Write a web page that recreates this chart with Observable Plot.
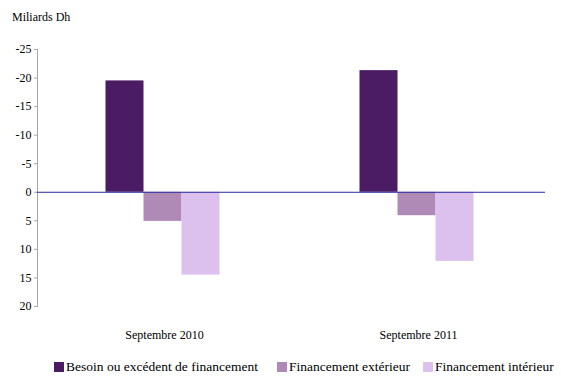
<!DOCTYPE html>
<html>
<head>
<meta charset="utf-8">
<script src="https://cdn.jsdelivr.net/npm/d3@7"></script>
<script src="https://cdn.jsdelivr.net/npm/@observablehq/plot@0.6"></script>
<style>
  html, body { margin: 0; padding: 0; background: #fff; }
  #wrap { position: relative; width: 561px; height: 380px; font-family: 'Liberation Serif', 'DejaVu Serif', serif; color: #000; }
  #unit { position: absolute; left: 12px; top: 10px; font-size: 12px; }
  #chart { position: absolute; left: 0; top: 30px; }
  .leg { position: absolute; top: 359px; font-size: 13.5px; white-space: nowrap; display: flex; align-items: center; }
  .sw { display: inline-block; width: 10px; height: 10px; margin-right: 2px; }
  #chart svg, #chart svg text { font-family: 'Liberation Serif', 'DejaVu Serif', serif; }
</style>
</head>
<body>
<div id="wrap">
  <div id="unit">Miliards Dh</div>
  <div id="chart"></div>
  <div id="legend"></div>
</div>
<script>
// Periods on the horizontal axis
const periods = ["Septembre 2010", "Septembre 2011"];
// Series (legend order)
const series = ["Besoin ou excédent de financement", "Financement extérieur", "Financement intérieur"];
const colors = ["#4b1b63", "#b08ab6", "#dcc0ee"];
// Values in billions of dirhams, one entry per period
const besoin = [-19.5, -21.3];
const exterieur = [5.1, 4.1];
const interieur = [14.5, 12.1];
// Vertical axis ticks
const yTicks = [-25, -20, -15, -10, -5, 0, 5, 10, 15, 20];

const seriesValues = [besoin, exterieur, interieur];
const rows = periods.flatMap((p, i) =>
  series.map((s, k) => ({period: p, series: s, value: seriesValues[k][i]}))
);

const chart = Plot.plot({
  width: 561,
  height: 322,
  marginLeft: 36,
  marginRight: 16,
  marginTop: 19,
  marginBottom: 46,
  style: {fontFamily: "'Liberation Serif', 'DejaVu Serif', serif", fontSize: "12px", color: "#000", background: "#fff"},
  fx: {domain: periods, padding: 0, label: null},
  x: {domain: series, paddingInner: 0, paddingOuter: 1.8, axis: null},
  y: {domain: [yTicks[0], yTicks[yTicks.length - 1]], reverse: true, label: null},
  color: {domain: series, range: colors},
  marks: [
    Plot.frame({anchor: "left", stroke: "#a6a6a6", facetAnchor: "left"}),
    Plot.axisY({ticks: yTicks, tickFormat: d => String(d), tickSize: 3, tickPadding: 3, stroke: "#a6a6a6", label: null}),
    Plot.axisFx({anchor: "bottom", tickSize: 0, tickPadding: 24, label: null, fontSize: 12}),
    Plot.barY(rows, {fx: "period", x: "series", y: "value", fill: "series", dx: -1.5}),
    Plot.ruleY([0], {stroke: "#2a2aa0", strokeWidth: 1})
  ]
});
document.getElementById("chart").appendChild(chart);

// Legend below the chart
const legendX = [54, 277, 423];
const legend = document.getElementById("legend");
series.forEach((s, k) => {
  const item = document.createElement("div");
  item.className = "leg";
  item.style.left = legendX[k] + "px";
  const sw = document.createElement("span");
  sw.className = "sw";
  sw.style.background = colors[k];
  item.appendChild(sw);
  item.appendChild(document.createTextNode(s));
  legend.appendChild(item);
});
</script>
</body>
</html>
